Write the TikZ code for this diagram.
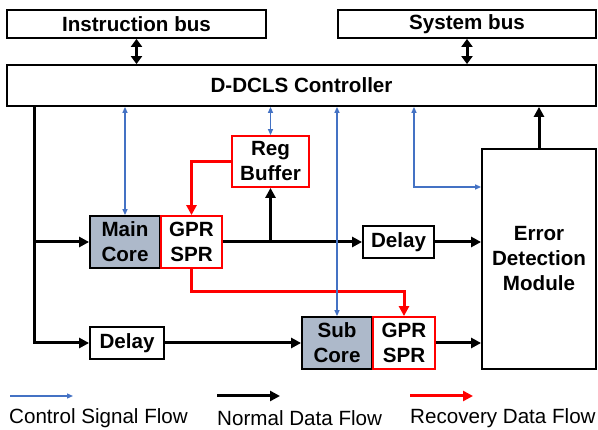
\documentclass[tikz,border=0pt]{standalone}
\usepackage{fontspec}
\setmainfont{Liberation Sans}
\usetikzlibrary{arrows.meta}

\definecolor{ctlblue}{HTML}{4472C4}
\definecolor{coregray}{HTML}{ADB9CA}

\begin{document}
\begin{tikzpicture}[x=1pt,y=-1pt,
  box/.style={draw=black,line width=1.8pt,fill=white,align=center,inner sep=0pt,
    font=\fontsize{20.6}{25}\selectfont\bfseries},
  regbox/.style={box,draw=red},
  corebox/.style={box,fill=coregray},
  flow/.style={line width=3pt,-{Triangle[length=10pt,width=10pt]}},
  rec/.style={red,line width=3pt,-{Triangle[length=10pt,width=10pt]}},
  ctl/.style={ctlblue,line width=1.3pt,-{Triangle[length=6pt,width=5pt]}},
  ctlboth/.style={ctl,{Triangle[length=6pt,width=5pt]}-{Triangle[length=6pt,width=5pt]}},
  bus/.style={line width=3pt,{Triangle[length=8pt,width=11pt]}-{Triangle[length=8pt,width=11pt]}},
  legend/.style={anchor=west,inner sep=0pt,font=\fontsize{20.6}{24}\selectfont}]
\useasboundingbox (0,0) rectangle (598,430);

% buses and controller
\node[box,minimum width=259,minimum height=28] (ibus) at (136.5,24) {Instruction bus};
\node[box,minimum width=258,minimum height=28] (sbus) at (467,24) {System bus};
\node[box,minimum width=589,minimum height=41] (ctrl) at (301.5,85.5) {D-DCLS Controller};

% cores
\node[corebox,minimum width=70,minimum height=52] (main) at (125,242) {Main\\Core};
\node[regbox,minimum width=61,minimum height=52] (mgpr) at (191.5,242) {GPR\\SPR};
\node[regbox,minimum width=77,minimum height=51] (regbuf) at (270.5,161.5) {Reg\\Buffer};
\node[box,minimum width=71,minimum height=32] (delay1) at (398.5,242) {Delay};
\node[box,minimum width=114,minimum height=220] (edm) at (539,259) {Error\\Detection\\Module};
\node[corebox,minimum width=70,minimum height=52] (subc) at (337,343) {Sub\\Core};
\node[regbox,minimum width=62,minimum height=52] (sgpr) at (404,343) {GPR\\SPR};
\node[box,minimum width=74,minimum height=32] (delay2) at (127,343) {Delay};

\coordinate (split) at (34,242);
\coordinate (bend) at (414,187);
\coordinate (rturn) at (191.5,292);

% bus links
\draw[bus] (ibus.south) -- (ibus.south |- ctrl.north);
\draw[bus] (sbus.south) -- (sbus.south |- ctrl.north);

% normal data flow
\draw[line width=3pt] (ctrl.south -| split) -- (split);
\draw[flow] (split) -- (main.west);
\draw[flow] (split) |- (delay2.west);
\draw[flow] (mgpr.east) -- (delay1.west);
\draw[flow] (regbuf.south |- mgpr.east) -- (regbuf.south);
\draw[flow] (delay1.east) -- (edm.west |- delay1.east);
\draw[flow] (delay2.east) -- (subc.west);
\draw[flow] (sgpr.east) -- (edm.west |- sgpr.east);
\draw[flow] (edm.north) -- (edm.north |- ctrl.south);

% recovery data flow
\draw[rec] (regbuf.west) -| (mgpr.north);
\draw[rec] (mgpr.south) -- (rturn) -| (sgpr.north);

% control signals
\draw[ctlboth] (main.north |- ctrl.south) -- (main.north);
\draw[ctlboth] (regbuf.north |- ctrl.south) -- (regbuf.north);
\draw[ctlboth] (subc.north |- ctrl.south) -- (subc.north);
\draw[ctlboth] (ctrl.south -| bend) -- (bend) -- (bend -| edm.west);

% legend
\coordinate (lg1) at (10,396);
\coordinate (lg2) at (217,396);
\coordinate (lg3) at (410,396);
\draw[ctl] (lg1) -- ++(63,0);
\draw[flow] (lg2) -- ++(63,0);
\draw[rec] (lg3) -- ++(63,0);
\node[legend] (lt1) at (9,418) {Control Signal Flow};
\node[legend] (lt2) at (217,418) {Normal Data Flow};
\node[legend] (lt3) at (410,418) {Recovery Data Flow};
\end{tikzpicture}
\end{document}
